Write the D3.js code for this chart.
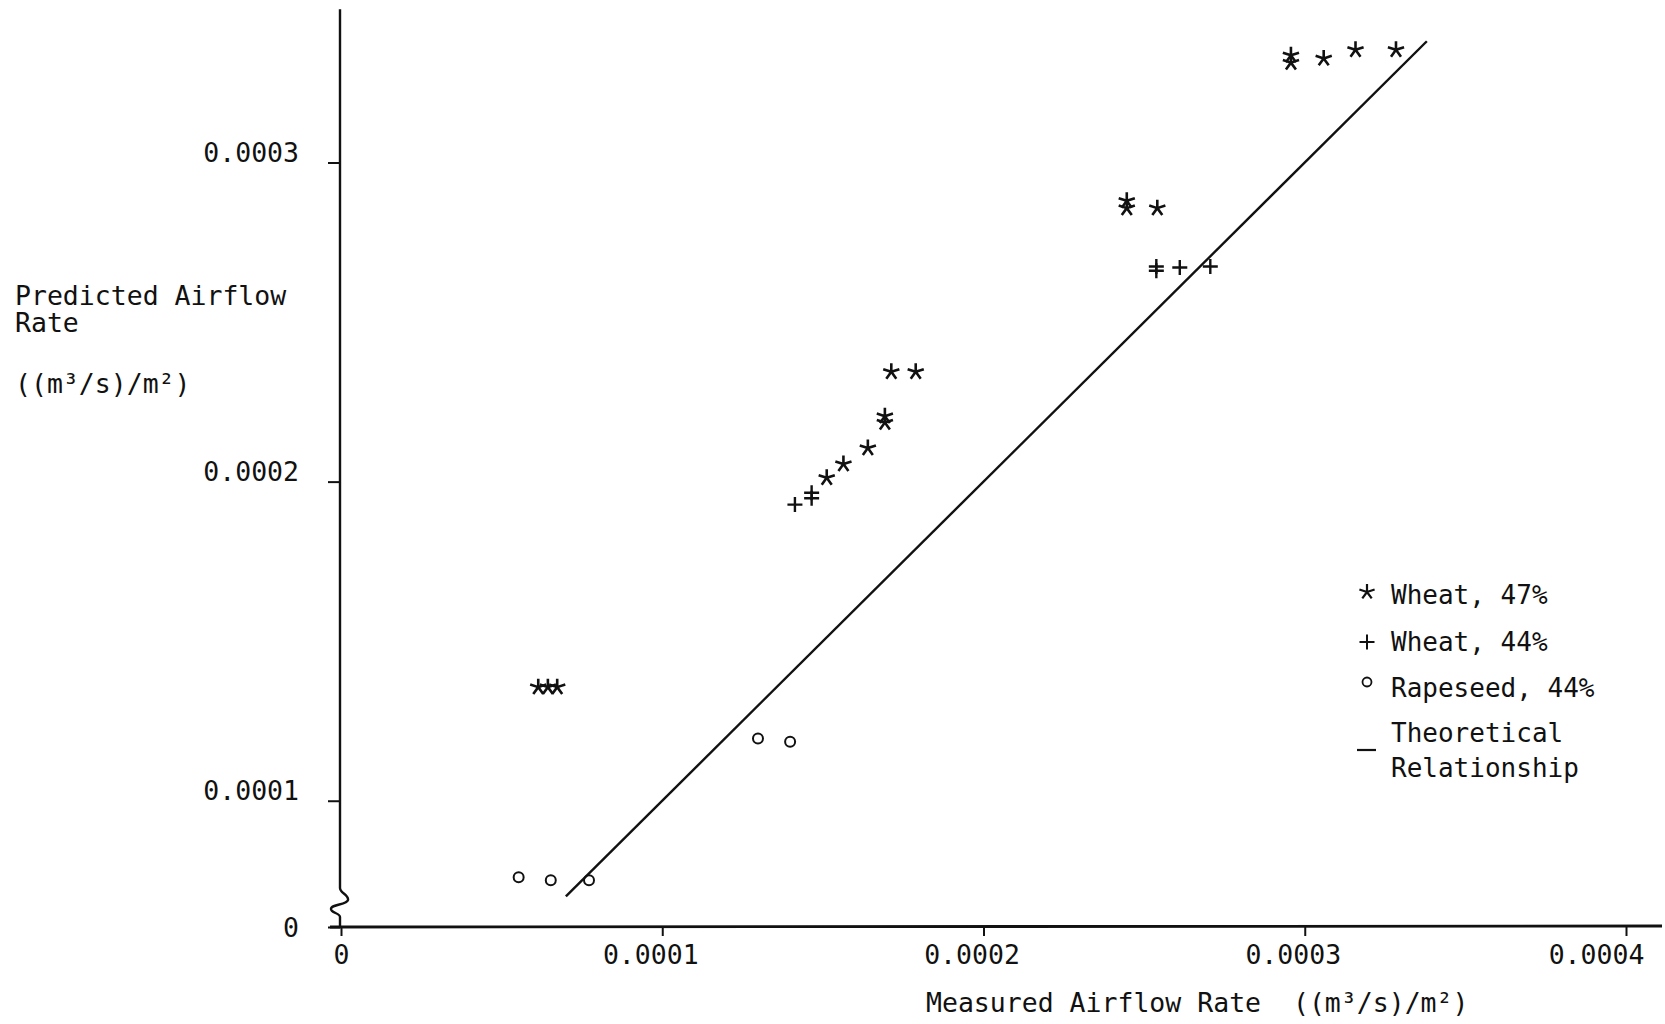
<!DOCTYPE html>
<html><head><meta charset="utf-8">
<script src="https://cdn.jsdelivr.net/npm/d3@7"></script>
<style>
html,body{margin:0;padding:0;background:#fff;}
svg text{font-family:"DejaVu Sans Mono",monospace;font-size:26.5px;fill:#111;white-space:pre;}
</style></head>
<body>
<svg id="chart" width="1665" height="1024"></svg>
<script>
// ---- data ----
const wheat47 = [
  [0.0000614,0.0001356],[0.0000644,0.0001356],[0.0000673,0.0001356],
  [0.0001512,0.0002012],[0.0001564,0.0002055],[0.0001640,0.0002105],
  [0.0001693,0.0002205],[0.0001693,0.0002185],[0.0001713,0.0002344],[0.0001789,0.0002344],
  [0.0002446,0.0002880],[0.0002446,0.0002857],[0.0002541,0.0002857],
  [0.0002957,0.0003336],[0.0002957,0.0003313],[0.0003059,0.0003326],[0.0003158,0.0003353],[0.0003284,0.0003353]
];
const wheat44 = [
  [0.0001413,0.0001928],[0.0001465,0.0001948],[0.0001465,0.0001965],
  [0.0002538,0.0002674],[0.0002538,0.0002661],[0.0002611,0.0002671],[0.0002706,0.0002674]
];
const rapeseed44 = [
  [0.0000553,0.0000760],[0.0000653,0.0000751],[0.0000772,0.0000751],
  [0.0001298,0.0001195],[0.0001398,0.0001185]
];
const theoretical = [[0.00007,0.00007],[0.000338,0.000338]];
const xTicks = [0, 0.0001, 0.0002, 0.0003, 0.0004];
const xTickLabels = ["0","0.0001","0.0002","0.0003","0.0004"];
const yTicks = [0, 0.0001, 0.0002, 0.0003];
const yTickLabels = ["0","0.0001","0.0002","0.0003"];
const yBreak = 0.000062;
const legendItems = [
  {type:"star", label:["Wheat, 47%"]},
  {type:"plus", label:["Wheat, 44%"]},
  {type:"circle", label:["Rapeseed, 44%"]},
  {type:"line", label:["Theoretical","Relationship"]}
];
const xTitle = "Measured Airflow Rate  ((m³/s)/m²)";
const yTitle = ["Predicted Airflow","Rate","","((m³/s)/m²)"];

// ---- scales ----
const svg = d3.select("#chart");
const ink = "#111";
const x = d3.scaleLinear().domain([0, 0.0004]).range([341, 1626]);
const y = d3.scaleLinear().domain([0, yBreak, 0.0003]).range([927, 922, 162.5]);
const x0 = x(0), y0 = y(0);

// ---- x axis ----
const xAxis = d3.axisBottom(x).tickValues(xTicks).tickSize(9).tickPadding(8)
  .tickFormat((d,i)=>xTickLabels[i]);
const gx = svg.append("g").attr("transform",`translate(0,${y0})`).call(xAxis);
gx.select(".domain").remove();
gx.selectAll(".tick line").attr("stroke",ink).attr("stroke-width",2);
gx.selectAll(".tick text").attr("font-size",null).attr("font-family",null)
  .attr("dy",null).attr("y",37)
  .attr("x",(d,i)=> i===0 ? 0 : (i===xTicks.length-1 ? -30 : -12))
  .style("fill",ink);
svg.append("line").attr("x1",x0-11).attr("x2",1662).attr("y1",y0).attr("y2",y0-1)
  .attr("stroke",ink).attr("stroke-width",2.8);

// ---- y axis ----
const yAxis = d3.axisLeft(y).tickValues(yTicks).tickSize(12).tickPadding(29)
  .tickFormat((d,i)=>yTickLabels[i]);
const gy = svg.append("g").attr("transform",`translate(${x0-1},0)`).call(yAxis);
gy.select(".domain").remove();
gy.selectAll(".tick line").attr("stroke",ink).attr("stroke-width",2);
gy.selectAll(".tick text").attr("font-size",null).attr("font-family",null)
  .attr("dy",d=> d===0 ? "0.35em" : "-0.05em").style("fill",ink);
// axis line with break symbol
const ax = x0-1;
const yTop = y(0.000348);
const brk = d3.path();
brk.moveTo(ax, yTop);
brk.lineTo(ax, y0-39);
brk.bezierCurveTo(ax, y0-34, ax+9, y0-32, ax+8, y0-27);
brk.bezierCurveTo(ax+7, y0-22, ax-9, y0-23, ax-9, y0-18);
brk.bezierCurveTo(ax-9, y0-14, ax, y0-14, ax, y0-10);
brk.lineTo(ax, y0);
svg.append("path").attr("d",brk.toString()).attr("fill","none")
  .attr("stroke",ink).attr("stroke-width",2.4);

// ---- titles ----
svg.append("text").attr("x",926).attr("y",1012).text(xTitle);
[305,332,0,393].forEach((b,i)=>{ if(yTitle[i]) svg.append("text").attr("x",15).attr("y",b).text(yTitle[i]); });

// ---- markers ----
function starPath(r){
  const p = d3.path();
  for(let k=0;k<5;k++){
    const a = -Math.PI/2 + k*2*Math.PI/5;
    p.moveTo(0,0); p.lineTo(r*Math.cos(a), r*Math.sin(a));
  }
  return p.toString();
}
function plusPath(r){
  const p = d3.path();
  p.moveTo(-r,0); p.lineTo(r,0); p.moveTo(0,-r); p.lineTo(0,r);
  return p.toString();
}

// theoretical line
svg.append("path").datum(theoretical)
  .attr("d", d3.line().x(d=>x(d[0])).y(d=>y(d[1])))
  .attr("fill","none").attr("stroke",ink).attr("stroke-width",2.4);

svg.append("g").selectAll("path").data(wheat47).join("path")
  .attr("transform",d=>`translate(${x(d[0])},${y(d[1])})`)
  .attr("d",starPath(8.5)).attr("fill","none").attr("stroke",ink).attr("stroke-width",2.6);
svg.append("g").selectAll("path").data(wheat44).join("path")
  .attr("transform",d=>`translate(${x(d[0])},${y(d[1])})`)
  .attr("d",plusPath(7.5)).attr("fill","none").attr("stroke",ink).attr("stroke-width",2.4);
svg.append("g").selectAll("circle").data(rapeseed44).join("circle")
  .attr("cx",d=>x(d[0])).attr("cy",d=>y(d[1])).attr("r",5)
  .attr("fill","none").attr("stroke",ink).attr("stroke-width",2);

// ---- legend ----
const lg = svg.append("g").attr("transform","translate(1367,0)");
const rowBase = [604, 651, 697, 742];
legendItems.forEach((it,i)=>{
  const b = rowBase[i];
  if(it.type==="star") lg.append("path").attr("transform",`translate(0,${b-12})`).attr("d",starPath(8))
      .attr("fill","none").attr("stroke",ink).attr("stroke-width",2.2);
  if(it.type==="plus") lg.append("path").attr("transform",`translate(0,${b-9})`).attr("d",plusPath(7.5))
      .attr("fill","none").attr("stroke",ink).attr("stroke-width",2);
  if(it.type==="circle") lg.append("circle").attr("cx",0).attr("cy",b-15).attr("r",4.5)
      .attr("fill","none").attr("stroke",ink).attr("stroke-width",1.8);
  if(it.type==="line") lg.append("line").attr("x1",-10).attr("x2",9).attr("y1",b+8).attr("y2",b+8)
      .attr("stroke",ink).attr("stroke-width",2.2);
  it.label.forEach((t,j)=> lg.append("text").attr("x",24).attr("y",b + j*35)
      .style("font-size","26px").text(t));
});
</script>
</body></html>
